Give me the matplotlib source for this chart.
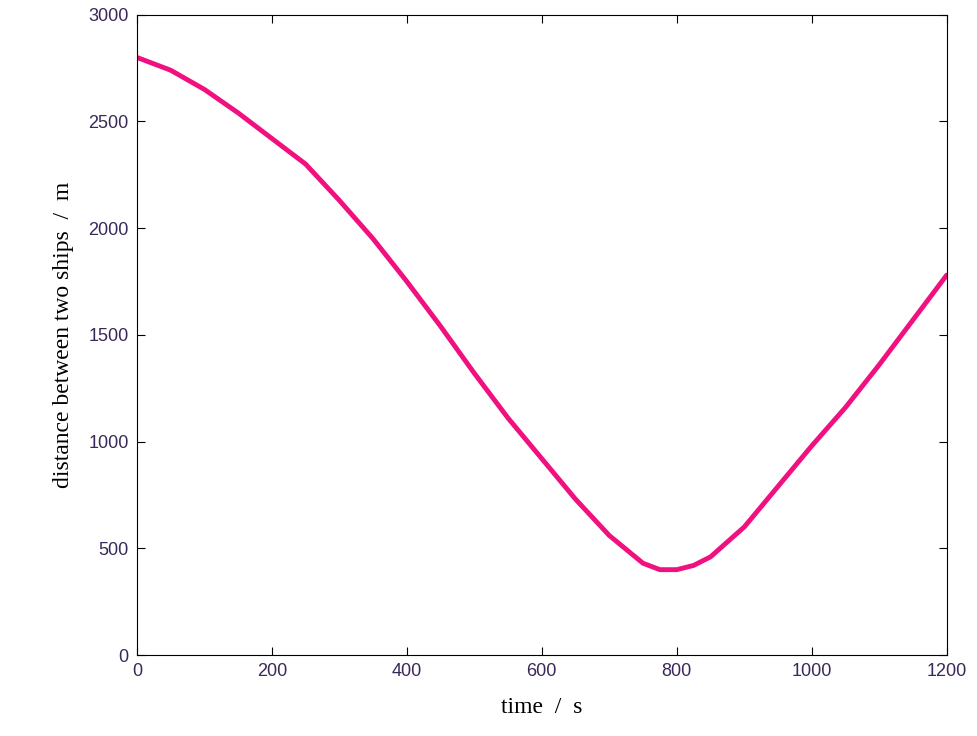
import matplotlib
matplotlib.use("Agg")
import matplotlib.pyplot as plt

time_s = [0, 50, 100, 150, 200, 250, 300, 350, 400, 450, 500, 550, 600, 650,
          700, 750, 775, 800, 825, 850, 900, 950, 1000, 1050, 1100, 1150, 1200]
distance_m = [2800, 2740, 2650, 2540, 2420, 2300, 2130, 1950, 1750, 1540, 1320, 1110, 920, 730,
              560, 430, 400, 400, 420, 460, 600, 790, 980, 1160, 1360, 1570, 1780]
xticks = [0, 200, 400, 600, 800, 1000, 1200]
yticks = [0, 500, 1000, 1500, 2000, 2500, 3000]

fig = plt.figure(figsize=(9.78, 7.36), dpi=100)
ax = fig.add_axes([0.140, 0.110, 0.828, 0.870])
ax.plot(time_s, distance_m, color="#f0107f", lw=3.5, solid_capstyle="round")
ax.set_xlim(0, 1200)
ax.set_ylim(0, 3000)
ax.set_xticks(xticks)
ax.set_yticks(yticks)
ax.tick_params(direction="in", top=True, right=True, length=6, labelsize=13,
               labelcolor="#3a2858", pad=6)
for lab in ax.get_xticklabels() + ax.get_yticklabels():
    lab.set_family("Liberation Sans")
ax.set_xlabel("time  /  s", family="Liberation Serif", fontsize=17, labelpad=12)
ax.set_ylabel("distance between two ships  /  m", family="Liberation Serif", fontsize=17, labelpad=10)
fig.savefig("out.png", dpi=100, facecolor="white")
